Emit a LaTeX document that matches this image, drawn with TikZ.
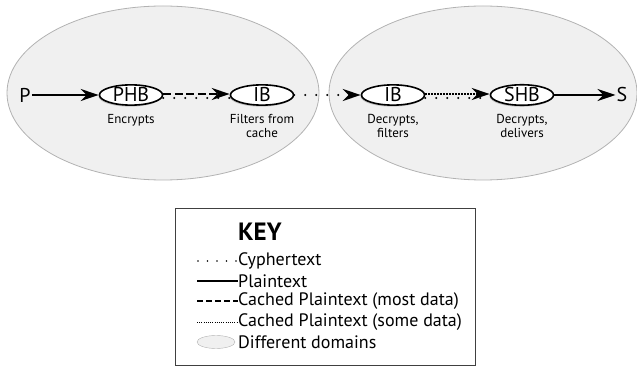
\documentclass[tikz,border=0pt]{standalone}
\usepackage{fontspec}
\setmainfont{PT Sans}
\usetikzlibrary{positioning, arrows.meta, shapes.geometric, shadows}

\begin{document}
\begin{tikzpicture}[x=1pt, y=-1pt,
    node distance=8pt,
    zone/.style={ellipse, draw=gray!60, fill=gray!12, line width=0.8pt, minimum height=174pt},
    hop/.style={ellipse, draw, line width=1.6pt, fill=white, minimum width=63pt, minimum height=18pt, inner sep=0pt,
      font=\fontsize{20}{20}\selectfont, drop shadow={shadow xshift=-1pt, shadow yshift=-1.5pt, opacity=0.4}},
    note/.style={align=center, inner sep=0pt, font=\fontsize{13}{14}\selectfont},
    arrow/.style={-{Stealth[length=18pt, width=12pt, inset=6pt]}},
    plain/.style={line width=1.4pt},
    cypher/.style={line width=2.2pt, line cap=round, dash pattern=on 0pt off 11pt},
    cachedmost/.style={line width=2pt, dash pattern=on 8pt off 3.5pt},
    cachedsome/.style={line width=1.5pt, dash pattern=on 1.5pt off 1.5pt},
    keytext/.style={anchor=west, inner sep=0pt, font=\fontsize{18}{18}\selectfont}
  ]
  \useasboundingbox (0,0) rectangle (637,366);

  % Domains
  \node[zone, minimum width=312pt] (dleft) at (163,93) {};
  \node[zone, minimum width=308pt] (dright) at (483,93) {};

  % Hops
  \node[font=\fontsize{20}{20}\selectfont, inner sep=1pt] (p) at (25,95) {P};
  \node[hop] (phb) at (131,95) {PHB};
  \node[hop] (ib1) at (262,95) {IB};
  \node[hop] (ib2) at (393,95) {IB};
  \node[hop] (shb) at (522,95) {SHB};
  \node[font=\fontsize{20}{20}\selectfont, inner sep=1pt] (s) at (622,95) {S};

  % Notes
  \node[note, below=8pt of phb] {Encrypts};
  \node[note, below=8pt of ib1] {Filters from\\cache};
  \node[note, below=8pt of ib2] {Decrypts,\\filters};
  \node[note, below=8pt of shb] {Decrypts,\\delivers};

  % Arrows
  \draw[plain, arrow] (p) -- (phb);
  \draw[cypher] ([yshift=-3pt]phb.east) -- ([yshift=-3pt]ib1.west);
  \draw[cachedmost, arrow] ([yshift=1pt]phb.east) -- ([yshift=1pt]ib1.west);
  \draw[cypher, arrow] (ib1) -- (ib2);
  \draw[cypher] ([yshift=-3pt]ib2.east) -- ([yshift=-3pt]shb.west);
  \draw[cachedsome, arrow] ([yshift=1pt]ib2.east) -- ([yshift=1pt]shb.west);
  \draw[plain, arrow] (shb) -- (s);

  % Key
  \node[draw=black!75, line width=1pt, minimum width=300pt, minimum height=156pt] (key) at (325,287) {};
  \node[anchor=west, inner sep=0pt, font=\fontsize{25}{25}\selectfont\bfseries] (ktitle) at (238,232) {KEY};
  \node[keytext] (kcypher) at (238,261) {Cyphertext};
  \node[keytext] (kplain) at (238,281) {Plaintext};
  \node[keytext] (kmost) at (238,301) {Cached Plaintext (most data)};
  \node[keytext] (ksome) at (238,322) {Cached Plaintext (some data)};
  \node[keytext] (kdomain) at (238,342) {Different domains};
  \coordinate (c1) at (198,261);
  \coordinate (c2) at (197,281);
  \coordinate (c3) at (197,301);
  \coordinate (c4) at (197,322);
  \draw[cypher, line width=1.8pt, dash pattern=on 0pt off 9.5pt] (c1) -- (kcypher.west);
  \draw[plain, line width=1.2pt] (c2) -- (kplain.west);
  \draw[cachedmost, line width=1.4pt, dash pattern=on 6pt off 3pt] (c3) -- (kmost.west);
  \draw[cachedsome, line width=1pt, dash pattern=on 1pt off 1.2pt] (c4) -- (ksome.west);
  \node[ellipse, draw=gray!60, fill=gray!12, minimum width=38pt, minimum height=13pt, inner sep=0pt] (kd) at (216,342) {};
\end{tikzpicture}
\end{document}
